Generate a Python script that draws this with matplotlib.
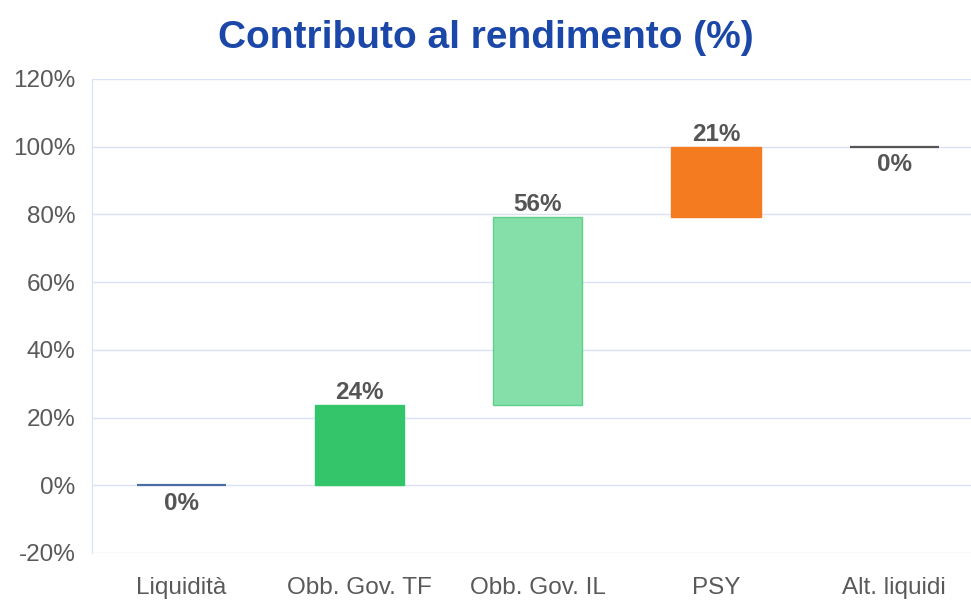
import matplotlib
matplotlib.use('Agg')
import matplotlib.pyplot as plt
from matplotlib.ticker import FuncFormatter

categories = ['Liquidità', 'Obb. Gov. TF', 'Obb. Gov. IL', 'PSY', 'Alt. liquidi']
contributions = [0.0, 23.7, 55.6, 20.7, 0.0]
bar_labels = ['0%', '24%', '56%', '21%', '0%']
bar_colors = ['#4a6fa5', '#34c46a', '#84e0a8', '#f47b20', '#555555']

plt.rcParams['font.family'] = ['Liberation Sans', 'DejaVu Sans']

fig = plt.figure(figsize=(9.71, 6.01), dpi=100)
ax = fig.add_axes([0.0947, 0.0799, 0.9053, 0.7887])

# waterfall: each bar starts where the previous ended
bottoms = []
running = 0.0
for v in contributions:
    bottoms.append(running)
    running += v

x = list(range(len(categories)))
for i, (v, b) in enumerate(zip(contributions, bottoms)):
    if v == 0:
        ax.hlines(b, i - 0.25, i + 0.25, color=bar_colors[i], lw=1.6, zorder=3)
        ax.text(i, b - 2.0, bar_labels[i], ha='center', va='top',
                fontsize=17.5, fontweight='bold', color='#555555')
    else:
        edge = '#5fcf8a' if i == 2 else bar_colors[i]
        ax.bar(i, v, bottom=b, width=0.5, color=bar_colors[i],
               edgecolor=edge, lw=1, zorder=3)
        ax.text(i, b + v + 0.3, bar_labels[i], ha='center', va='bottom',
                fontsize=17.5, fontweight='bold', color='#555555')

ax.set_xlim(-0.5, 4.43)
ax.set_ylim(-20, 120)
ax.set_yticks(range(-20, 121, 20))
ax.yaxis.set_major_formatter(FuncFormatter(lambda v, p: '%d%%' % v))
ax.set_xticks(x)
ax.set_xticklabels(categories)
ax.tick_params(axis='both', length=0, labelsize=17.5, colors='#595959')
ax.tick_params(axis='x', pad=17)
ax.tick_params(axis='y', pad=12)

ax.grid(axis='y', color='#d9e1f7', lw=1, zorder=0)
ax.set_axisbelow(True)
for s in ['top', 'right', 'bottom']:
    ax.spines[s].set_visible(False)
ax.spines['left'].set_color('#d9e1f7')

fig.text(0.5, 0.937, 'Contributo al rendimento (%)', ha='center', va='center',
         fontsize=28, fontweight='bold', color='#1a47a8')

fig.savefig('out.png', dpi=100)
